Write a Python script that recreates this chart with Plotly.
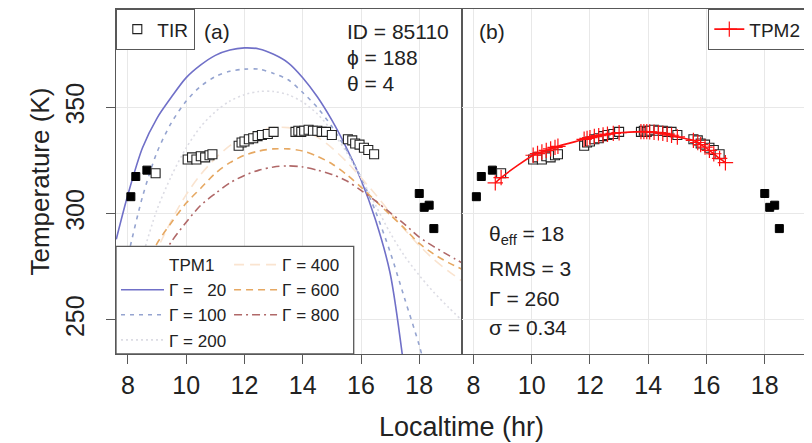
import plotly.graph_objects as go
from plotly.subplots import make_subplots

# ---------------- data ----------------
tpm1_hours = [7.6, 8.0, 8.5, 9.0, 9.5, 10.0, 10.5, 11.0, 11.5, 12.0, 12.5, 13.0, 13.5,
              14.0, 14.5, 15.0, 15.5, 16.0, 16.5, 17.0, 17.5, 18.0, 18.5, 19.0, 19.45]
tpm1_g20 = [288, 309, 331, 345, 355, 364, 370, 374.5, 377, 378, 377.5, 375, 371,
            364, 355, 344, 331, 316, 297, 272, 225, None, None, None, None]
tpm1_g100 = [256, 280, 308, 329, 343, 353, 360, 364.5, 367, 368, 368, 366, 363,
             357, 350, 341, 330, 317, 301, 282, 260, 238, 212, None, None]
tpm1_g200 = [235, 255, 280, 302, 318, 331, 341, 348, 353, 356, 357.5, 357.5, 356,
             352.5, 347, 339, 329, 317, 304, 291, 280, 271, 263, 256, 250]
tpm1_g400 = [230, 248, 266, 283, 297, 309, 318.5, 326, 332, 336, 339, 340.5, 340.5,
             339, 336, 331, 324.5, 317, 309, 300.5, 292.5, 285, 278.5, 273, 268.5]
tpm1_g600 = [238, 255, 271, 286, 296, 305, 312, 319, 324, 327.5, 329.5, 330.5, 330.5,
             329.5, 327, 323.5, 318.5, 312.5, 306, 299.5, 293, 286, 281, 277, 274]
tpm1_g800 = [235, 250, 262, 276, 287, 296, 304, 309.5, 314.5, 318, 320.5, 322, 322.5,
             322, 320.5, 318.5, 315.5, 311, 306, 300.5, 295, 289, 284.5, 280.5, 277]
tpm1_labels = ["Γ = \u00a0\u00a020", "Γ = 100", "Γ = 200", "Γ = 400", "Γ = 600", "Γ = 800"]

tir_hours = [8.95, 10.05, 10.2, 10.35, 10.5, 10.65, 10.8, 10.9,
             11.8, 11.9, 12.0, 12.15, 12.3, 12.45, 12.6, 12.8, 13.0,
             13.75, 13.85, 13.95, 14.05, 14.2, 14.35, 14.5, 14.65, 14.8, 15.0,
             15.55, 15.7, 15.8, 15.95, 16.1, 16.25, 16.45]
tir_temps = [319, 325.5, 326.5, 325.5, 327, 326.5, 327.5, 328,
             332, 333.5, 334, 335, 335.5, 336.5, 337, 337.5, 338.5,
             338.5, 339, 338.5, 339, 339.5, 339, 339, 338.5, 338.5, 337,
             335, 334.5, 333, 332.5, 331, 330, 328]

excl_hours = [8.1, 8.27, 8.65, 18.0, 18.17, 18.34, 18.5]
excl_temps = [308, 317.5, 320.5, 309.5, 303, 304, 293]

tpm2_hours = [8.75, 8.95, 10.05, 10.2, 10.35, 10.5, 10.65, 10.8, 10.9,
              11.8, 11.9, 12.0, 12.15, 12.3, 12.45, 12.6, 12.8, 13.0,
              13.75, 13.85, 13.95, 14.05, 14.2, 14.35, 14.5, 14.65, 14.8, 15.0,
              15.55, 15.7, 15.8, 15.95, 16.1, 16.25, 16.45, 16.65]
tpm2_temps = [314.5, 317, 327.5, 328.3, 329, 329.8, 330.5, 331.2, 331.7,
              335, 335.4, 335.8, 336.3, 336.7, 337.1, 337.4, 337.8, 338.1,
              338.6, 338.6, 338.6, 338.5, 338.3, 338.1, 337.8, 337.4, 336.9, 336.1,
              334.5, 333.5, 332.5, 331.3, 329.8, 328.2, 326, 324]

x_ticks = [8, 10, 12, 14, 16, 18]
y_ticks = [250, 300, 350]
x_range = [7.59, 19.45]
y_range = [234, 396.3]

FONT = "Liberation Sans, Arial, Helvetica, sans-serif"
TXT = "#222222"
FRAME = "#585858"

fig = make_subplots(rows=1, cols=2, shared_yaxes=True, horizontal_spacing=0)

styles = [
    dict(color="#7070C8", dash="solid"),
    dict(color="#95A4D0", dash="4px,5px"),
    dict(color="#DCDCE4", dash="2px,3px"),
    dict(color="#FAE4D0", dash="10px,6px"),
    dict(color="#E6A862", dash="7px,5px"),
    dict(color="#B06868", dash="8px,4px,2px,4px"),
]
series = [tpm1_g20, tpm1_g100, tpm1_g200, tpm1_g400, tpm1_g600, tpm1_g800]

# TPM1 header (blank legend entry)
fig.add_trace(go.Scatter(x=[None], y=[None], mode="lines", name="TPM1",
                         line=dict(color="rgba(0,0,0,0)", width=1.5),
                         legend="legend3", legendrank=0, hoverinfo="skip"), row=1, col=1)

for i in range(6):
    leg = "legend3" if i < 3 else "legend4"
    fig.add_trace(go.Scatter(x=tpm1_hours, y=series[i], mode="lines", name=tpm1_labels[i],
                             line=dict(color=styles[i]["color"], dash=styles[i]["dash"],
                                       width=1.6, shape="spline", smoothing=0.8),
                             legend=leg, legendrank=i + 1), row=1, col=1)

# TIR observations, panel a
fig.add_trace(go.Scatter(x=excl_hours, y=excl_temps, mode="markers", showlegend=False,
                         marker=dict(symbol="square", size=8, color="black",
                                     line=dict(color="black", width=1))), row=1, col=1)
fig.add_trace(go.Scatter(x=tir_hours, y=tir_temps, mode="markers", name="TIR",
                         marker=dict(symbol="square", size=9, color="white",
                                     line=dict(color="#222", width=1.1)),
                         legend="legend"), row=1, col=1)

# panel b
fig.add_trace(go.Scatter(x=excl_hours, y=excl_temps, mode="markers", showlegend=False,
                         marker=dict(symbol="square", size=8, color="black",
                                     line=dict(color="black", width=1))), row=1, col=2)
fig.add_trace(go.Scatter(x=tir_hours, y=tir_temps, mode="markers", showlegend=False,
                         marker=dict(symbol="square", size=9, color="white",
                                     line=dict(color="#222", width=1.1))), row=1, col=2)
fig.add_trace(go.Scatter(x=tpm2_hours, y=tpm2_temps, mode="lines+markers", name="TPM2",
                         line=dict(color="#FF1010", width=1.6, shape="spline"),
                         marker=dict(symbol="cross-thin", size=11,
                                     line=dict(color="#FF1010", width=1.2)),
                         legend="legend2"), row=1, col=2)

axis_common = dict(range=x_range, tickvals=x_ticks, showgrid=True, gridcolor="#E8E8E8",
                   gridwidth=1, zeroline=False, showline=True, linecolor=FRAME, linewidth=1.3,
                   mirror=True, ticks="outside", ticklen=9, tickcolor=FRAME, tickwidth=1.2,
                   tickfont=dict(family=FONT, size=25, color=TXT))
fig.update_xaxes(**axis_common)
fig.update_xaxes(domain=[0, 0.5], row=1, col=1)
fig.update_xaxes(domain=[0.5, 1], row=1, col=2)
fig.update_yaxes(range=y_range, tickvals=y_ticks, showgrid=True, gridcolor="#E8E8E8",
                 gridwidth=1, zeroline=False, showline=True, linecolor=FRAME, linewidth=1.3,
                 mirror=True)
fig.update_yaxes(ticks="outside", ticklen=9, tickcolor=FRAME, tickwidth=1.2, tickangle=-90,
                 tickfont=dict(family=FONT, size=25, color=TXT), ticklabelstandoff=12,
                 row=1, col=1)
fig.update_yaxes(ticks="", showticklabels=False, row=1, col=2)

legend_font = dict(family=FONT, size=19, color=TXT)
small_legend_font = dict(family=FONT, size=17, color=TXT)
fig.update_layout(
    # page body adds an 8px offset; plot area lands at about x 116-807, y 9-354 in the window
    width=804, height=435,
    margin=dict(l=108, r=5, t=1, b=89),
    paper_bgcolor="white", plot_bgcolor="white",
    font=dict(family=FONT, color=TXT),
    legend=dict(x=0, y=1, xanchor="left", yanchor="top", bgcolor="white",
                bordercolor=FRAME, borderwidth=1.3, font=legend_font, itemwidth=30),
    legend2=dict(x=1, y=1, xanchor="right", yanchor="top", bgcolor="white",
                 bordercolor=FRAME, borderwidth=1.3, font=legend_font, itemwidth=30),
    legend3=dict(x=0.0, y=0.31, xanchor="left", yanchor="top", bgcolor="rgba(0,0,0,0)",
                 borderwidth=0, font=small_legend_font,
                 tracegroupgap=0, itemwidth=43, traceorder="normal"),
    legend4=dict(x=0.1636, y=0.31, xanchor="left", yanchor="top", bgcolor="rgba(0,0,0,0)",
                 borderwidth=0, font=small_legend_font,
                 tracegroupgap=0, itemwidth=43, traceorder="normal"),
    shapes=[dict(type="rect", xref="paper", yref="paper", x0=0, x1=0.344, y0=0, y1=0.312,
                 fillcolor="white", line=dict(color=FRAME, width=1.3), layer="above")],
)

ann_font = dict(family=FONT, size=21, color=TXT)
annotations = [
    dict(text="(a)", x=0.124, y=0.936),
    dict(text="(b)", x=0.522, y=0.936),
    dict(text="ID = 85110", x=0.331, y=0.934),
    dict(text="ϕ = 188", x=0.331, y=0.858),
    dict(text="θ = 4", x=0.331, y=0.783),
    dict(text="θ<sub>eff</sub> = 18", x=0.5376, y=0.344),
    dict(text="RMS = 3", x=0.5376, y=0.249),
    dict(text="Γ = 260", x=0.5376, y=0.162),
    dict(text="σ = 0.34", x=0.5376, y=0.078),
]
for a in annotations:
    fig.add_annotation(xref="paper", yref="paper", xanchor="left", yanchor="middle",
                       showarrow=False, font=ann_font, **a)
fig.add_annotation(text="Localtime (hr)", xref="paper", yref="paper", x=0.5, y=-0.211,
                   xanchor="center", yanchor="middle", showarrow=False,
                   font=dict(family=FONT, size=27, color=TXT))
fig.add_annotation(text="Temperature (K)", xref="paper", yref="paper", x=(39 - 116) / 691,
                   y=0.5, xanchor="center", yanchor="middle", textangle=-90, showarrow=False,
                   font=dict(family=FONT, size=26, color=TXT))

fig.write_html("out.html")
